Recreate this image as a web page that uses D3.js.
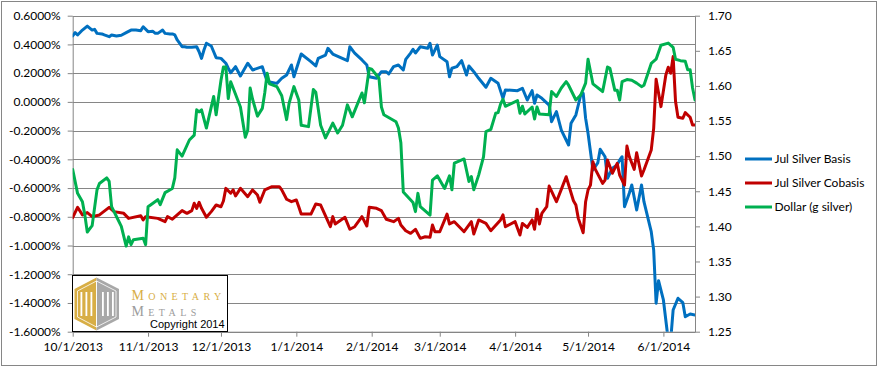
<!DOCTYPE html>
<html><head><meta charset="utf-8">
<script src="https://cdn.jsdelivr.net/npm/d3@7"></script>
<style>
html,body{margin:0;padding:0;background:#fff;}
svg{display:block;}
</style></head><body>
<svg id="chart" width="881" height="367"></svg>
<script>
// ---------- DATA ----------
const seriesNames = ["Jul Silver Basis", "Jul Silver Cobasis", "Dollar (g silver)"];
const xDomain = ["2013-10-01", "2014-06-14"];
const monthTicks = ["2013-10-01","2013-11-01","2013-12-01","2014-01-01","2014-02-01","2014-03-01","2014-04-01","2014-05-01","2014-06-01"];
const leftTicks = [0.6,0.4,0.2,0,-0.2,-0.4,-0.6,-0.8,-1.0,-1.2,-1.4,-1.6];
const rightTicks = [1.70,1.65,1.60,1.55,1.50,1.45,1.40,1.35,1.30,1.25];

const basisDates = ["2013-10-01","2013-10-02","2013-10-03","2013-10-05","2013-10-07","2013-10-09","2013-10-10","2013-10-11","2013-10-13","2013-10-14","2013-10-16","2013-10-17","2013-10-19","2013-10-21","2013-10-23","2013-10-25","2013-10-27","2013-10-29","2013-10-30","2013-11-01","2013-11-03","2013-11-04","2013-11-05","2013-11-07","2013-11-08","2013-11-10","2013-11-11","2013-11-12","2013-11-13","2013-11-15","2013-11-16","2013-11-17","2013-11-19","2013-11-21","2013-11-22","2013-11-23","2013-11-24","2013-11-25","2013-11-27","2013-11-28","2013-11-29","2013-12-01","2013-12-03","2013-12-04","2013-12-05","2013-12-07","2013-12-09","2013-12-12","2013-12-14","2013-12-18","2013-12-20","2013-12-21","2013-12-24","2013-12-26","2013-12-28","2013-12-30","2013-12-31","2014-01-03","2014-01-07","2014-01-09","2014-01-10","2014-01-13","2014-01-14","2014-01-16","2014-01-19","2014-01-22","2014-01-23","2014-01-25","2014-01-28","2014-01-30","2014-01-31","2014-02-03","2014-02-05","2014-02-07","2014-02-08","2014-02-10","2014-02-12","2014-02-14","2014-02-15","2014-02-17","2014-02-18","2014-02-19","2014-02-21","2014-02-24","2014-02-25","2014-02-26","2014-02-28","2014-03-01","2014-03-04","2014-03-05","2014-03-06","2014-03-08","2014-03-10","2014-03-12","2014-03-13","2014-03-15","2014-03-17","2014-03-20","2014-03-22","2014-03-25","2014-03-27","2014-03-28","2014-04-02","2014-04-04","2014-04-06","2014-04-08","2014-04-09","2014-04-10","2014-04-12","2014-04-15","2014-04-16","2014-04-18","2014-04-20","2014-04-23","2014-04-24","2014-04-26","2014-04-28","2014-04-29","2014-04-30","2014-05-01","2014-05-03","2014-05-05","2014-05-06","2014-05-08","2014-05-09","2014-05-11","2014-05-13","2014-05-14","2014-05-15","2014-05-16","2014-05-18","2014-05-19","2014-05-21","2014-05-23","2014-05-24","2014-05-27","2014-05-28","2014-05-29","2014-05-30","2014-06-01","2014-06-03","2014-06-04","2014-06-05","2014-06-07","2014-06-09","2014-06-10","2014-06-12","2014-06-14"];
const basisValues = [0.459,0.482,0.466,0.500,0.528,0.500,0.505,0.477,0.473,0.466,0.454,0.466,0.459,0.464,0.482,0.500,0.500,0.496,0.523,0.489,0.491,0.477,0.477,0.500,0.477,0.473,0.473,0.466,0.431,0.384,0.384,0.380,0.380,0.384,0.349,0.303,0.361,0.408,0.389,0.349,0.308,0.303,0.269,0.234,0.203,0.245,0.180,0.269,0.222,0.245,0.141,0.138,0.129,0.164,0.187,0.257,0.175,0.333,0.280,0.250,0.303,0.326,0.373,0.333,0.310,0.287,0.384,0.340,0.292,0.257,0.175,0.164,0.210,0.210,0.194,0.245,0.257,0.222,0.296,0.340,0.366,0.340,0.384,0.373,0.408,0.326,0.396,0.315,0.280,0.175,0.234,0.245,0.287,0.187,0.250,0.210,0.164,0.102,0.164,0.129,0.025,0.083,0.078,0.095,0.013,0.078,-0.010,0.048,0.025,-0.022,-0.138,-0.068,-0.196,-0.300,-0.149,-0.091,0.048,0.060,-0.114,-0.219,-0.474,-0.425,-0.330,-0.382,-0.532,-0.462,-0.439,-0.405,-0.382,-0.730,-0.634,-0.579,-0.753,-0.579,-0.695,-0.904,-1.031,-1.402,-1.245,-1.379,-1.66,-1.66,-1.449,-1.367,-1.398,-1.496,-1.477,-1.484];

const cobasisDates = ["2013-10-01","2013-10-03","2013-10-05","2013-10-07","2013-10-09","2013-10-12","2013-10-16","2013-10-18","2013-10-22","2013-10-24","2013-10-29","2013-10-30","2013-10-31","2013-11-05","2013-11-08","2013-11-09","2013-11-11","2013-11-15","2013-11-17","2013-11-19","2013-11-20","2013-11-21","2013-11-22","2013-11-23","2013-11-25","2013-11-27","2013-11-29","2013-12-01","2013-12-02","2013-12-03","2013-12-05","2013-12-06","2013-12-07","2013-12-09","2013-12-12","2013-12-14","2013-12-16","2013-12-17","2013-12-19","2013-12-22","2013-12-25","2013-12-26","2013-12-28","2013-12-30","2014-01-01","2014-01-02","2014-01-03","2014-01-07","2014-01-09","2014-01-11","2014-01-15","2014-01-16","2014-01-17","2014-01-21","2014-01-23","2014-01-25","2014-01-28","2014-01-30","2014-01-31","2014-02-03","2014-02-05","2014-02-07","2014-02-10","2014-02-12","2014-02-13","2014-02-15","2014-02-17","2014-02-19","2014-02-21","2014-02-23","2014-02-25","2014-02-26","2014-02-27","2014-03-01","2014-03-04","2014-03-05","2014-03-07","2014-03-11","2014-03-14","2014-03-15","2014-03-17","2014-03-20","2014-03-22","2014-03-26","2014-03-27","2014-03-28","2014-04-01","2014-04-03","2014-04-04","2014-04-06","2014-04-08","2014-04-09","2014-04-10","2014-04-11","2014-04-12","2014-04-14","2014-04-15","2014-04-18","2014-04-20","2014-04-22","2014-04-25","2014-04-26","2014-04-27","2014-04-29","2014-04-30","2014-05-01","2014-05-02","2014-05-03","2014-05-04","2014-05-07","2014-05-08","2014-05-09","2014-05-11","2014-05-13","2014-05-14","2014-05-16","2014-05-17","2014-05-18","2014-05-20","2014-05-21","2014-05-23","2014-05-24","2014-05-27","2014-05-28","2014-05-29","2014-05-31","2014-06-02","2014-06-03","2014-06-04","2014-06-05","2014-06-06","2014-06-07","2014-06-09","2014-06-10","2014-06-12","2014-06-13","2014-06-14"];
const cobasisValues = [-0.806,-0.734,-0.787,-0.771,-0.799,-0.787,-0.734,-0.764,-0.776,-0.811,-0.793,-0.822,-0.799,-0.811,-0.834,-0.799,-0.817,-0.757,-0.776,-0.757,-0.706,-0.741,-0.699,-0.741,-0.803,-0.764,-0.718,-0.730,-0.690,-0.602,-0.636,-0.613,-0.655,-0.602,-0.660,-0.613,-0.648,-0.699,-0.613,-0.590,-0.590,-0.613,-0.678,-0.695,-0.683,-0.730,-0.781,-0.781,-0.711,-0.718,-0.869,-0.799,-0.850,-0.804,-0.887,-0.869,-0.799,-0.864,-0.734,-0.741,-0.757,-0.817,-0.834,-0.811,-0.857,-0.897,-0.915,-0.887,-0.950,-0.939,-0.943,-0.857,-0.904,-0.904,-0.781,-0.850,-0.834,-0.904,-0.834,-0.920,-0.822,-0.846,-0.897,-0.822,-0.787,-0.869,-0.834,-0.927,-0.846,-0.874,-0.822,-0.887,-0.748,-0.850,-0.776,-0.730,-0.586,-0.695,-0.609,-0.521,-0.688,-0.718,-0.811,-0.911,-0.695,-0.613,-0.579,-0.417,-0.470,-0.567,-0.544,-0.405,-0.497,-0.428,-0.509,-0.579,-0.307,-0.382,-0.470,-0.354,-0.516,-0.474,-0.335,-0.184,0.157,-0.033,0.187,0.241,0.199,0.315,0.002,-0.107,-0.114,-0.075,-0.107,-0.161,-0.161];

const dollarDates = ["2013-10-01","2013-10-03","2013-10-05","2013-10-06","2013-10-07","2013-10-09","2013-10-11","2013-10-12","2013-10-15","2013-10-16","2013-10-17","2013-10-19","2013-10-21","2013-10-23","2013-10-24","2013-10-25","2013-10-26","2013-10-30","2013-10-31","2013-11-01","2013-11-03","2013-11-05","2013-11-06","2013-11-08","2013-11-11","2013-11-12","2013-11-13","2013-11-15","2013-11-18","2013-11-20","2013-11-21","2013-11-22","2013-11-23","2013-11-25","2013-11-28","2013-11-29","2013-12-01","2013-12-02","2013-12-03","2013-12-04","2013-12-05","2013-12-09","2013-12-11","2013-12-12","2013-12-13","2013-12-14","2013-12-16","2013-12-18","2013-12-19","2013-12-20","2013-12-21","2013-12-24","2013-12-26","2013-12-28","2013-12-29","2013-12-31","2014-01-02","2014-01-03","2014-01-06","2014-01-08","2014-01-09","2014-01-11","2014-01-13","2014-01-15","2014-01-16","2014-01-18","2014-01-20","2014-01-22","2014-01-24","2014-01-26","2014-01-28","2014-01-29","2014-01-31","2014-02-01","2014-02-04","2014-02-05","2014-02-06","2014-02-11","2014-02-12","2014-02-13","2014-02-14","2014-02-18","2014-02-19","2014-02-20","2014-02-21","2014-02-25","2014-02-26","2014-02-28","2014-03-03","2014-03-05","2014-03-06","2014-03-07","2014-03-11","2014-03-13","2014-03-14","2014-03-15","2014-03-17","2014-03-19","2014-03-20","2014-03-22","2014-03-24","2014-03-25","2014-03-26","2014-03-27","2014-03-28","2014-04-02","2014-04-03","2014-04-04","2014-04-05","2014-04-08","2014-04-09","2014-04-10","2014-04-11","2014-04-15","2014-04-16","2014-04-18","2014-04-20","2014-04-22","2014-04-23","2014-04-26","2014-04-28","2014-04-30","2014-05-01","2014-05-03","2014-05-07","2014-05-09","2014-05-10","2014-05-12","2014-05-13","2014-05-14","2014-05-15","2014-05-17","2014-05-19","2014-05-21","2014-05-23","2014-05-24","2014-05-27","2014-05-29","2014-05-31","2014-06-03","2014-06-05","2014-06-06","2014-06-08","2014-06-10","2014-06-11","2014-06-12","2014-06-13","2014-06-14"];
const dollarValues = [1.481,1.447,1.435,1.416,1.392,1.401,1.452,1.461,1.469,1.464,1.428,1.414,1.400,1.372,1.385,1.374,1.381,1.383,1.374,1.428,1.433,1.438,1.431,1.448,1.454,1.469,1.509,1.500,1.523,1.530,1.566,1.563,1.566,1.540,1.585,1.559,1.608,1.627,1.627,1.582,1.606,1.570,1.527,1.537,1.597,1.581,1.557,1.568,1.590,1.618,1.603,1.599,1.586,1.552,1.575,1.599,1.580,1.544,1.542,1.595,1.591,1.544,1.526,1.540,1.547,1.533,1.544,1.573,1.556,1.573,1.590,1.576,1.625,1.624,1.611,1.570,1.559,1.549,1.540,1.519,1.449,1.434,1.421,1.447,1.428,1.416,1.466,1.472,1.454,1.472,1.452,1.490,1.496,1.464,1.471,1.452,1.473,1.499,1.535,1.538,1.561,1.562,1.574,1.581,1.571,1.579,1.561,1.571,1.560,1.570,1.553,1.570,1.560,1.559,1.592,1.585,1.597,1.606,1.601,1.580,1.587,1.604,1.638,1.603,1.592,1.627,1.625,1.594,1.594,1.580,1.606,1.609,1.608,1.604,1.599,1.601,1.632,1.638,1.658,1.661,1.655,1.638,1.636,1.635,1.623,1.623,1.597,1.580];

const seriesColors = ["#0070C0", "#C00000", "#00B050"];

// ---------- CHART ----------
const parse = d3.timeParse("%Y-%m-%d");
const P = {left: 72.7, right: 695, top: 15.7, bottom: 331.7};
const FONT = "Lato, 'Open Sans', sans-serif";
const GRID = "#868686";
const svg = d3.select("#chart");

svg.append("rect").attr("x", 1.5).attr("y", 1.5).attr("width", 875).attr("height", 364)
  .attr("fill", "#fff").attr("stroke", GRID).attr("stroke-width", 1);

const x = d3.scaleTime().domain(xDomain.map(parse)).range([P.left, P.right]);
const yL = d3.scaleLinear().domain([-1.6, 0.6]).range([P.bottom, P.top]);
const yR = d3.scaleLinear().domain([1.25, 1.70]).range([P.bottom, P.top]);

// gridlines
svg.append("g").selectAll("line").data(leftTicks).join("line")
  .attr("x1", P.left).attr("x2", P.right)
  .attr("y1", d => Math.round(yL(d)) + 0.5).attr("y2", d => Math.round(yL(d)) + 0.5)
  .attr("stroke", GRID).attr("stroke-width", 1);

function styleAxis(g) {
  g.attr("font-family", FONT).attr("font-size", 12);
  g.select(".domain").attr("stroke", GRID);
  g.selectAll(".tick line").attr("stroke", GRID);
  g.selectAll(".tick text").attr("fill", "#000");
}

const gL = svg.append("g").attr("transform", `translate(${P.left},0)`)
  .call(d3.axisLeft(yL).tickValues(leftTicks).tickFormat(d => d.toFixed(4) + "%")
    .tickSize(5).tickSizeOuter(0).tickPadding(7));
styleAxis(gL);

const gR = svg.append("g").attr("transform", `translate(${P.right},0)`)
  .call(d3.axisRight(yR).tickValues(rightTicks).tickFormat(d => d.toFixed(2))
    .tickSize(5).tickSizeOuter(0).tickPadding(8));
styleAxis(gR);

const gX = svg.append("g").attr("transform", `translate(0,${P.bottom})`)
  .call(d3.axisBottom(x).tickValues(monthTicks.map(parse)).tickFormat(d3.timeFormat("%-m/%-d/%Y"))
    .tickSize(5).tickSizeOuter(0).tickPadding(6));
styleAxis(gX);

// clip
svg.append("defs").append("clipPath").attr("id", "plotclip")
  .append("rect").attr("x", P.left).attr("y", P.top).attr("width", P.right - P.left).attr("height", P.bottom - P.top);

const series = [
  {dates: basisDates, values: basisValues, y: yL},
  {dates: cobasisDates, values: cobasisValues, y: yL},
  {dates: dollarDates, values: dollarValues, y: yR}
];
const gLines = svg.append("g").attr("clip-path", "url(#plotclip)");
series.forEach((s, i) => {
  const pts = s.dates.map((d, j) => ({date: parse(d), v: s.values[j]}));
  const line = d3.line().x(d => x(d.date)).y(d => s.y(d.v));
  gLines.append("path").datum(pts).attr("d", line)
    .attr("fill", "none").attr("stroke", seriesColors[i]).attr("stroke-width", 3)
    .attr("stroke-linejoin", "round").attr("stroke-linecap", "round");
});

// legend
const lg = svg.append("g").attr("transform", "translate(745,159)");
seriesNames.forEach((n, i) => {
  const g = lg.append("g").attr("transform", `translate(0,${i * 24})`);
  g.append("line").attr("x1", 0).attr("x2", 27).attr("y1", 0).attr("y2", 0)
    .attr("stroke", seriesColors[i]).attr("stroke-width", 3);
  g.append("text").attr("x", 29.5).attr("y", 0).attr("dy", "0.35em")
    .attr("font-family", FONT).attr("font-size", 12).attr("fill", "#000").text(n);
});

// logo box
const logo = svg.append("g");
logo.append("rect").attr("x", 72.5).attr("y", 275.5).attr("width", 155).attr("height", 56)
  .attr("fill", "#fff").attr("stroke", "#000").attr("stroke-width", 1);
const gold = "#D8AE45", gray = "#A8A8A8";
logo.append("polygon").attr("points", "96.5,277.5 74.5,289 74.5,319 96.5,330.5").attr("fill", gold);
logo.append("polygon").attr("points", "96.5,277.5 119,289 119,319 96.5,330.5").attr("fill", gray);
logo.append("polygon").attr("points", "96.5,281 77.5,291 77.5,317 96.5,327").attr("fill", "none").attr("stroke", "#fff").attr("stroke-width", 0.8);
logo.append("polygon").attr("points", "96.5,281 116,291 116,317 96.5,327").attr("fill", "none").attr("stroke", "#fff").attr("stroke-width", 0.8);
[80.5, 85.5, 90.5, 102, 107, 112].forEach(px => {
  logo.append("rect").attr("x", px).attr("y", 292).attr("width", 1.8).attr("height", 24).attr("fill", "#fff");
});
const SERIF = "'Liberation Serif', 'DejaVu Serif', serif";
const t1 = logo.append("text").attr("x", 131.5).attr("y", 300).attr("font-family", SERIF)
  .attr("fill", gold).attr("letter-spacing", 4.4);
t1.append("tspan").attr("font-size", 14).text("M");
t1.append("tspan").attr("font-size", 10).text("ONETARY");
const t2 = logo.append("text").attr("x", 131.5).attr("y", 316).attr("font-family", SERIF)
  .attr("fill", "#9C9C9C").attr("letter-spacing", 4.4);
t2.append("tspan").attr("font-size", 14).text("M");
t2.append("tspan").attr("font-size", 10).text("ETALS");
logo.append("text").attr("x", 150).attr("y", 327.5).attr("font-family", "'Liberation Sans', Arial, sans-serif")
  .attr("font-size", 11).attr("fill", "#000").text("Copyright 2014");
</script>
</body></html>
